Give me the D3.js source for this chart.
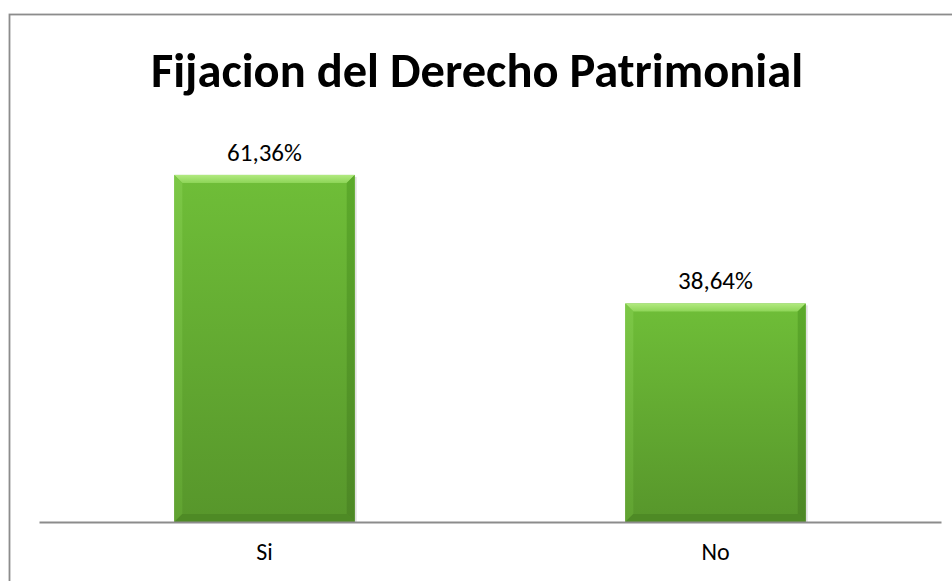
<!DOCTYPE html>
<html><head><meta charset="utf-8">
<script src="https://cdn.jsdelivr.net/npm/d3@7"></script>
<style>html,body{margin:0;padding:0;background:#fff;}svg{display:block;}</style>
</head><body>
<svg id="c" width="952" height="581"></svg>
<script>
const title = "Fijacion del Derecho Patrimonial";
const categories = ["Si", "No"];
const values = [61.36, 38.64];
const yMax = 70;

const W = 952, H = 581;
const svg = d3.select("#c");
const font = "Carlito, Calibri, Lato, 'Open Sans', sans-serif";

// frame
svg.append("rect").attr("x", 9.5).attr("y", 14.5).attr("width", 960).attr("height", 600)
  .attr("fill", "#fff").attr("stroke", "#8c8c8c").attr("stroke-width", 1.8);

const plot = {left: 39, right: 941, top: 126, bottom: 522};
const x = d3.scaleBand().domain(categories).range([plot.left, plot.right])
  .paddingInner(0.6).paddingOuter(0.3);
const y = d3.scaleLinear().domain([0, yMax]).range([plot.bottom, plot.top]);

const defs = svg.append("defs");
const gBody = defs.append("linearGradient").attr("id", "body").attr("x1", 0).attr("y1", 0).attr("x2", 0).attr("y2", 1);
gBody.append("stop").attr("offset", "0%").attr("stop-color", "#6fbe38");
gBody.append("stop").attr("offset", "100%").attr("stop-color", "#57962b");
const gTop = defs.append("linearGradient").attr("id", "topb").attr("x1", 0).attr("y1", 0).attr("x2", 0).attr("y2", 1);
gTop.append("stop").attr("offset", "0%").attr("stop-color", "#b2ea80");
gTop.append("stop").attr("offset", "100%").attr("stop-color", "#8ed558");
const gL = defs.append("linearGradient").attr("id", "leftb").attr("x1", 0).attr("y1", 0).attr("x2", 0).attr("y2", 1);
gL.append("stop").attr("offset", "0%").attr("stop-color", "#7cc846");
gL.append("stop").attr("offset", "100%").attr("stop-color", "#60a231");
const gR = defs.append("linearGradient").attr("id", "rightb").attr("x1", 0).attr("y1", 0).attr("x2", 0).attr("y2", 1);
gR.append("stop").attr("offset", "0%").attr("stop-color", "#5caa2b");
gR.append("stop").attr("offset", "100%").attr("stop-color", "#4d8725");

const bevel = 8;
const bars = svg.append("g").selectAll("g").data(categories.map((c, i) => ({c, v: values[i]}))).join("g");
bars.append("rect")
  .attr("x", d => x(d.c) + 2).attr("y", d => y(d.v) + 2)
  .attr("width", x.bandwidth()).attr("height", d => plot.bottom - y(d.v) - 1)
  .attr("fill", "#000").attr("opacity", 0.12);
bars.append("rect")
  .attr("x", d => x(d.c)).attr("y", d => y(d.v))
  .attr("width", x.bandwidth()).attr("height", d => plot.bottom - y(d.v))
  .attr("fill", "url(#body)");
bars.append("polygon").attr("fill", "url(#topb)").attr("points", d => {
  const x0 = x(d.c), x1 = x0 + x.bandwidth(), y0 = y(d.v);
  return [[x0, y0], [x1, y0], [x1 - bevel, y0 + bevel], [x0 + bevel, y0 + bevel]].join(" ");
});
bars.append("polygon").attr("fill", "url(#leftb)").attr("points", d => {
  const x0 = x(d.c), y0 = y(d.v), y1 = plot.bottom;
  return [[x0, y0], [x0 + bevel, y0 + bevel], [x0 + bevel, y1 - bevel], [x0, y1]].join(" ");
});
bars.append("polygon").attr("fill", "url(#rightb)").attr("points", d => {
  const x1 = x(d.c) + x.bandwidth(), y0 = y(d.v), y1 = plot.bottom;
  return [[x1, y0], [x1 - bevel, y0 + bevel], [x1 - bevel, y1 - bevel], [x1, y1]].join(" ");
});
bars.append("polygon").attr("fill", "#4e8a25").attr("points", d => {
  const x0 = x(d.c), x1 = x0 + x.bandwidth(), y1 = plot.bottom;
  return [[x0, y1], [x0 + bevel, y1 - bevel], [x1 - bevel, y1 - bevel], [x1, y1]].join(" ");
});

// value labels
bars.append("text")
  .attr("x", d => x(d.c) + x.bandwidth() / 2).attr("y", d => y(d.v) - 14)
  .attr("text-anchor", "middle").attr("font-family", font).attr("font-size", 25)
  .attr("fill", "#000")
  .text(d => d.v.toFixed(2).replace(".", ",") + "%");

// axis
const xAxis = svg.append("g").attr("transform", `translate(0,${plot.bottom})`)
  .call(d3.axisBottom(x).tickSize(0).tickPadding(21));
xAxis.select(".domain").attr("stroke", "#8c8c8c").attr("stroke-width", 1.8);
xAxis.selectAll("text").attr("font-family", font).attr("font-size", 24).attr("fill", "#000");

// title
svg.append("text").attr("x", 477).attr("y", 87).attr("text-anchor", "middle")
  .attr("font-family", font).attr("font-weight", "bold").attr("font-size", 48.5)
  .attr("fill", "#000").text(title);
</script>
</body></html>
